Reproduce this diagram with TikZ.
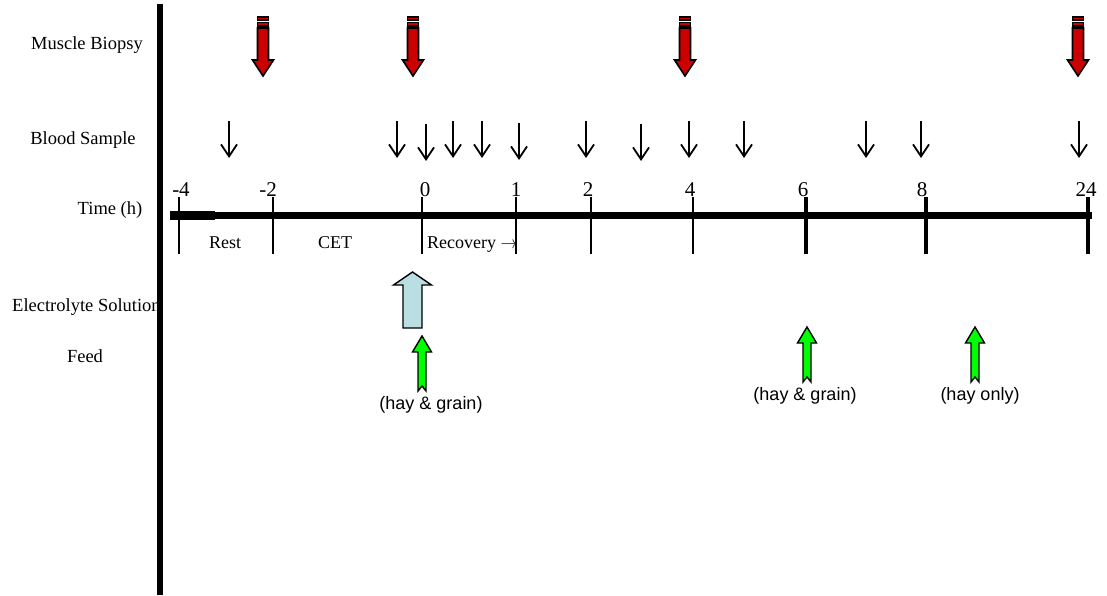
\documentclass[tikz,border=0pt]{standalone}
\usepackage{fontspec}
\setmainfont{Liberation Serif}
\newfontfamily\labelsans{Liberation Sans}
\usetikzlibrary{arrows.meta}

\definecolor{biopsyred}{HTML}{CC0000}
\definecolor{fluidblue}{HTML}{B9DFE2}
\definecolor{feedgreen}{HTML}{00FF00}

\begin{document}
\begin{tikzpicture}[x=1pt,y=-1pt,
  rowlabel/.style={font=\fontsize{18.5}{20}\selectfont, inner sep=0pt, anchor=base},
  phaselabel/.style={font=\fontsize{18}{20}\selectfont, inner sep=0pt, anchor=base},
  ticklabel/.style={font=\fontsize{21}{23}\selectfont, inner sep=0pt, anchor=base},
  feedlabel/.style={font=\labelsans\fontsize{18}{20}\selectfont, inner sep=0pt, anchor=base},
  sample/.style={line width=1.8pt, -{Straight Barb[length=12pt,width=16pt]}},
  biopsyfill/.style={draw=black, fill=biopsyred, line width=1.6pt, line join=miter},
  feedfill/.style={draw=black, fill=feedgreen, line width=1.4pt, line join=miter},
  fluidfill/.style={draw=black, fill=fluidblue, line width=1.4pt, line join=miter},
  biopsy/.pic={
    \path[biopsyfill] (-5.5,0) rectangle (5.5,3);
    \path[biopsyfill] (-5.5,5.5) rectangle (5.5,9);
    \path[biopsyfill] (-5.5,11) -- (5.5,11) -- (5.5,43) -- (10.5,43) -- (0,59)
      -- (-10.5,43) -- (-5.5,43) -- cycle;
  },
  feedarrow/.pic={
    \path[feedfill] (0,0) -- (9.5,16) -- (4,16) -- (4,55) -- (0,50) -- (-4,55)
      -- (-4,16) -- (-9.5,16) -- cycle;
  }
]
\useasboundingbox (0,0) rectangle (1107,596);

% row labels
\node[rowlabel] (lbBiopsy) at (87,50) {Muscle Biopsy};
\node[rowlabel] (lbBlood) at (83,145) {Blood Sample};
\node[rowlabel] (lbTime) at (110,214) {Time (h)};
\node[rowlabel, anchor=base west] (lbFluid) at (12,311) {Electrolyte Solution};
\node[rowlabel] (lbFeed) at (85,362) {Feed};

% vertical frame bar
\coordinate (barTop) at (160,4);
\coordinate (barBot) at (160,595);
\draw[line width=6pt] (barTop) -- (barBot);

% time axis
\coordinate (axL) at (170,215.5);
\coordinate (axM) at (215,215.5);
\coordinate (axR) at (1092,215.5);
\draw[line width=7pt] (axL) -- (axR);
\draw[line width=8.5pt] (axL) -- (axM);

% ticks: position / label / line width / label centre
\foreach \x/\lab/\w/\lx [count=\i] in {179/-4/2.5/181, 273/-2/2.5/268, 422/0/1.6/425, 516/1/1.6/516,
    591/2/2/588, 693/4/2/690, 806/6/4/803, 926/8/4/922, 1088/24/4/1086}{
  \coordinate (tk\i a) at (\x,197);
  \coordinate (tk\i b) at (\x,254);
  \draw[line width=\w pt] (tk\i a) -- (tk\i b);
  \node[ticklabel] (tl\i) at (\lx,196) {\lab};
}

% phase labels
\node[phaselabel] (phRest) at (225,248) {Rest};
\node[phaselabel] (phCET) at (335,248) {CET};
\node[phaselabel, anchor=base west] (phRec) at (427,248) {Recovery $\rightarrow$};

% blood samples
\foreach \x/\t [count=\i] in {229/121, 397/121, 426/124, 453/121, 482/121, 519/123,
    586/121, 641/124, 689/121, 744/121, 866/121, 921/121, 1079/121}{
  \coordinate (bs\i a) at (\x,\t);
  \coordinate (bs\i b) at (\x,\t+37);
  \draw[sample] (bs\i a) -- (bs\i b);
}

% muscle biopsies
\pic at (263,17) {biopsy};
\pic at (413,17) {biopsy};
\pic at (685,17) {biopsy};
\pic at (1078,17) {biopsy};

% electrolyte solution
\path[fluidfill] (403,328) -- (403,285) -- (393.5,285) -- (412.5,272) -- (431.5,285)
  -- (422,285) -- (422,328) -- cycle;

% feeding
\pic at (422,336) {feedarrow};
\pic at (807,327) {feedarrow};
\pic at (975,327) {feedarrow};
\node[feedlabel] (fd1) at (431,409) {(hay \& grain)};
\node[feedlabel] (fd2) at (805,400) {(hay \& grain)};
\node[feedlabel] (fd3) at (980,400) {(hay only)};
\end{tikzpicture}
\end{document}
